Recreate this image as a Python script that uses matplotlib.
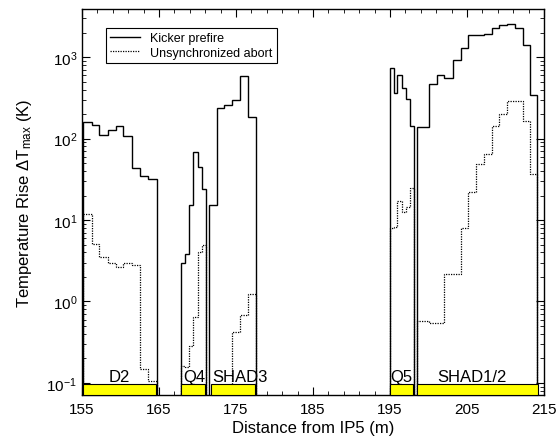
import matplotlib
matplotlib.use("Agg")
import matplotlib.pyplot as plt
from matplotlib.patches import Rectangle
from matplotlib.ticker import LogLocator, FixedLocator, NullFormatter

plt.rcParams["font.family"] = ["Liberation Sans", "DejaVu Sans"]
plt.rcParams["mathtext.fontset"] = "custom"
plt.rcParams["mathtext.rm"] = "Liberation Sans"
plt.rcParams["mathtext.it"] = "Liberation Sans:italic"

# bin edges (m) and peak temperature rise (K) per element
d2_edges = [155.17, 156.26, 157.25, 158.34, 159.38, 160.36, 161.45, 162.53, 163.61, 164.70]
d2_prefire = [160, 146, 110, 129, 142, 108, 43, 35, 31.6]
d2_async = [12, 5.1, 3.5, 3.0, 2.67, 2.95, 2.8, 0.15, 0.107]

q4_edges = [167.82, 168.38, 168.94, 169.45, 170.03, 170.55, 171.06]
q4_prefire = [3.0, 3.8, 15.1, 68.7, 45, 23.9]
q4_async = [0.16, 0.155, 0.28, 0.65, 4.0, 5.0]

shad3_edges = [171.53, 172.49, 173.44, 174.52, 175.52, 176.52, 177.60]
shad3_prefire = [15.1, 238, 256, 301, 588, 184]
shad3_async_edges = [174.52, 175.52, 176.52, 177.60]
shad3_async = [0.425, 0.68, 1.25]

q5_edges = [195.0, 195.48, 195.97, 196.52, 197.05, 197.64, 198.12]
q5_prefire = [736, 366, 598, 419, 310, 143]
q5_async = [7.9, 8.2, 17, 12.6, 14.5, 24.4]

shad12_edges = [198.55, 200.10, 201.14, 202.05, 203.14, 204.22, 205.17, 206.17,
                207.25, 208.21, 209.19, 210.23, 211.23, 212.23, 213.18, 214.05]
shad12_prefire = [139, 473, 610, 556, 914, 1297, 1872, 1850, 1941, 2280, 2483,
                  2555, 2280, 1396, 344]
shad12_async = [0.57, 0.55, 0.55, 2.16, 2.16, 8.0, 22.2, 48.4, 65.5, 143, 203,
                287, 287, 165, 37]

# element extents along the beam line
elem_names = ["D2", "Q4", "SHAD3", "Q5", "SHAD1/2"]
elem_start = [155.17, 167.82, 171.72, 195.0, 198.55]
elem_end = [164.6, 171.0, 177.5, 198.0, 214.2]
label_x = [159.9, 169.6, 175.5, 196.5, 205.7]

x_major = [155, 165, 175, 185, 195, 205, 215]

fig = plt.figure(figsize=(5.59, 4.39), dpi=100)
ax = fig.add_axes([0.1467, 0.0979, 0.8265, 0.8793])

solid = dict(color="black", lw=1.0, baseline=1e-4)
dotted = dict(color="black", lw=0.9, linestyle=(0, (1, 1)), baseline=1e-4)

ax.stairs(d2_prefire, d2_edges, label="Kicker prefire", **solid)
ax.stairs(d2_async, d2_edges, label="Unsynchronized abort", **dotted)
ax.stairs(q4_prefire, q4_edges, **solid)
ax.stairs(q4_async, q4_edges, **dotted)
ax.stairs(shad3_prefire, shad3_edges, **solid)
ax.stairs(shad3_async, shad3_async_edges, **dotted)
ax.stairs(q5_prefire, q5_edges, **solid)
ax.stairs(q5_async, q5_edges, **dotted)
ax.stairs(shad12_prefire, shad12_edges, **solid)
ax.stairs(shad12_async, shad12_edges, **dotted)

ymin, ymax = 0.071, 3900
box_top = 0.098
for name, x0, x1, xl in zip(elem_names, elem_start, elem_end, label_x):
    ax.add_patch(Rectangle((x0, ymin), x1 - x0, box_top - ymin, facecolor="#ffff00",
                           edgecolor="black", lw=0.8, zorder=5, clip_on=False))
    ax.text(xl, 0.107, name, ha="center", va="baseline", fontsize=12, zorder=6)

ax.set_yscale("log")
ax.set_xlim(155, 215)
ax.set_ylim(ymin, ymax)
ax.xaxis.set_major_locator(FixedLocator(x_major))
ax.xaxis.set_minor_locator(FixedLocator(range(155, 216, 2)))
ax.yaxis.set_major_locator(LogLocator(base=10))
ax.yaxis.set_minor_locator(LogLocator(base=10, subs=range(2, 10)))
ax.yaxis.set_minor_formatter(NullFormatter())
ax.tick_params(which="both", direction="in", top=True, right=True, labelsize=11)
ax.tick_params(which="major", length=6, width=0.8)
ax.tick_params(which="minor", length=3, width=0.6)
ax.tick_params(axis="x", which="major", pad=5)
for s in ax.spines.values():
    s.set_linewidth(1.0)

ax.set_xlabel("Distance from IP5 (m)", fontsize=12, labelpad=3)
ax.set_ylabel(r"Temperature Rise $\Delta$T$_{\rm max}$ (K)", fontsize=12, labelpad=9)

leg = ax.legend(loc="upper left", bbox_to_anchor=(0.052, 0.951), fontsize=9,
                frameon=True, fancybox=False, edgecolor="black", framealpha=1,
                borderaxespad=0, handlelength=2.4, borderpad=0.35, labelspacing=0.2)
leg.get_frame().set_linewidth(0.8)

fig.savefig("out.png", dpi=100)
